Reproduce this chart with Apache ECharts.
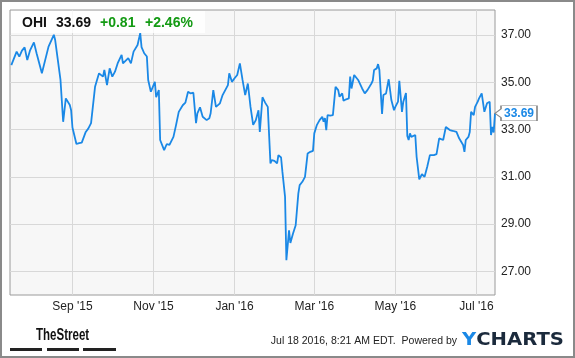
<!DOCTYPE html>
<html>
<head>
<meta charset="utf-8">
<script src="https://cdn.jsdelivr.net/npm/echarts@6/dist/echarts.min.js"></script>
<style>
html,body{margin:0;padding:0;background:#fff;}
#chart{width:575px;height:358px;}
</style>
</head>
<body>
<div id="chart"></div>
<script>
var dates = [
'2015-07-17','2015-07-21','2015-07-23','2015-07-25','2015-07-27','2015-07-29','2015-07-31','2015-08-03','2015-08-05','2015-08-09',
'2015-08-14','2015-08-18','2015-08-19','2015-08-23','2015-08-25','2015-08-27','2015-08-30','2015-08-31','2015-09-01','2015-09-02',
'2015-09-04','2015-09-06','2015-09-08','2015-09-09','2015-09-11','2015-09-13','2015-09-15','2015-09-18','2015-09-21','2015-09-22',
'2015-09-24','2015-09-25','2015-09-27','2015-09-29','2015-10-01','2015-10-03','2015-10-05','2015-10-06','2015-10-08','2015-10-09',
'2015-10-13','2015-10-15','2015-10-17','2015-10-20','2015-10-22','2015-10-23','2015-10-25','2015-10-27','2015-10-28','2015-10-30',
'2015-11-02','2015-11-03','2015-11-05','2015-11-06','2015-11-09','2015-11-11','2015-11-13','2015-11-16','2015-11-17','2015-11-18',
'2015-11-20','2015-11-23','2015-11-25','2015-11-27','2015-11-29','2015-12-01','2015-12-03','2015-12-04','2015-12-06','2015-12-08',
'2015-12-11','2015-12-13','2015-12-14','2015-12-16','2015-12-18','2015-12-19','2015-12-21','2015-12-23','2015-12-25','2015-12-27',
'2015-12-28','2015-12-30','2016-01-01','2016-01-03','2016-01-05','2016-01-07','2016-01-09','2016-01-11','2016-01-13','2016-01-15',
'2016-01-17','2016-01-19','2016-01-20','2016-01-22','2016-01-24','2016-01-26','2016-01-28','2016-01-29','2016-01-31','2016-02-02',
'2016-02-03','2016-02-05','2016-02-06','2016-02-08','2016-02-09','2016-02-10','2016-02-11','2016-02-12','2016-02-14','2016-02-16',
'2016-02-18','2016-02-19','2016-02-21','2016-02-23','2016-02-24','2016-02-25','2016-02-27','2016-02-29','2016-03-01','2016-03-03',
'2016-03-05','2016-03-07','2016-03-08','2016-03-09','2016-03-10','2016-03-11','2016-03-13','2016-03-15','2016-03-17','2016-03-19',
'2016-03-20','2016-03-22','2016-03-23','2016-03-25','2016-03-27','2016-03-28','2016-03-29','2016-03-31','2016-04-03','2016-04-04',
'2016-04-06','2016-04-08','2016-04-10','2016-04-13','2016-04-14','2016-04-15','2016-04-17','2016-04-18','2016-04-19','2016-04-21',
'2016-04-22','2016-04-24','2016-04-26','2016-04-28','2016-04-30','2016-05-01','2016-05-03','2016-05-04','2016-05-06','2016-05-07',
'2016-05-09','2016-05-10','2016-05-11','2016-05-12','2016-05-13','2016-05-16','2016-05-17','2016-05-19','2016-05-21','2016-05-23',
'2016-05-25','2016-05-27','2016-05-30','2016-06-01','2016-06-03','2016-06-06','2016-06-08','2016-06-11','2016-06-13','2016-06-16',
'2016-06-18','2016-06-21','2016-06-22','2016-06-23','2016-06-25','2016-06-26','2016-06-27','2016-06-29','2016-06-30','2016-07-02',
'2016-07-03','2016-07-05','2016-07-07','2016-07-09','2016-07-11','2016-07-12','2016-07-13','2016-07-14','2016-07-15'
];
var closes = [
35.73,36.30,36.09,36.34,36.48,35.94,36.34,36.69,36.23,35.38,
36.51,37.01,36.79,35.10,33.33,34.32,34.04,33.82,33.09,33.15,
32.39,32.43,32.45,32.37,32.90,33.05,33.27,34.81,35.38,35.45,
35.24,35.52,34.88,35.59,35.24,35.45,35.80,35.76,36.16,35.80,
36.02,35.80,36.30,36.58,37.08,36.49,36.23,36.09,35.10,34.60,
35.02,34.37,34.67,32.56,32.13,32.39,32.35,32.69,32.63,33.20,
33.75,34.03,34.14,34.60,34.53,34.56,33.27,33.69,33.94,33.54,
33.40,33.48,33.69,34.67,33.96,34.03,34.11,34.46,34.67,34.88,
35.38,35.02,35.17,35.31,35.80,35.10,34.46,34.95,33.96,33.20,
33.40,33.82,32.90,34.37,34.14,33.96,31.57,31.71,31.68,31.57,
31.92,31.82,31.22,30.15,27.47,27.45,28.74,28.20,28.60,28.95,
30.30,30.65,30.79,31.00,30.96,31.99,32.06,32.10,32.84,33.20,
33.40,33.54,33.33,33.49,32.98,33.61,33.59,33.61,34.81,34.67,
34.39,34.53,34.22,34.28,34.32,35.24,34.74,35.31,35.10,35.02,
34.74,34.53,34.67,34.95,35.07,35.52,35.59,35.77,35.52,33.66,
34.46,34.53,35.13,34.25,33.82,33.96,34.18,35.06,33.75,34.18,
34.55,32.73,32.56,32.84,32.69,32.77,31.85,30.89,31.11,31.00,
31.43,31.92,31.92,31.96,32.63,32.56,33.11,32.98,32.95,32.90,
32.63,32.35,32.06,32.56,32.69,32.90,33.75,33.61,33.96,34.18,
34.32,34.53,33.75,34.11,34.18,32.77,33.11,32.88,33.69
];
var xTickDates = ['2015-09-01','2015-11-01','2016-01-01','2016-03-01','2016-05-01','2016-07-01'];
var yTickValues = [27, 29, 31, 33, 35, 37];
var xRange = ['2015-07-16', '2016-07-15'];
var yRange = [26.0, 38.06];
var ticker = 'OHI';
var lastPrice = '33.69';
var change = '+0.81';
var changePct = '+2.46%';
var stamp = 'Jul 18 2016, 8:21 AM EDT.  Powered by';

var MONTHS = ['Jan','Feb','Mar','Apr','May','Jun','Jul','Aug','Sep','Oct','Nov','Dec'];
function ts(s) { var p = s.split('-'); return Date.UTC(+p[0], +p[1] - 1, +p[2]); }
function fmtMonth(v) {
  var d = new Date(v);
  return MONTHS[d.getUTCMonth()] + " '" + String(d.getUTCFullYear()).slice(2);
}
var seriesData = dates.map(function (d, i) { return [ts(d), closes[i]]; });
var xTicks = xTickDates.map(ts);
var last = seriesData[seriesData.length - 1];

var chart = echarts.init(document.getElementById('chart'), null, {renderer: 'canvas'});
var font = 'Arial, "Liberation Sans", sans-serif';
chart.setOption({
  animation: false,
  backgroundColor: '#ffffff',
  grid: {
    left: 10, top: 10, width: 485, height: 285,
    show: true, backgroundColor: '#f7f7f7', borderColor: '#9a9a9a', borderWidth: 1
  },
  xAxis: {
    type: 'value',
    min: ts(xRange[0]), max: ts(xRange[1]),
    axisLine: {show: false},
    axisTick: {show: false, customValues: xTicks},
    axisLabel: {
      customValues: xTicks, formatter: fmtMonth, margin: 6,
      color: '#222', fontSize: 12, fontFamily: font
    },
    splitLine: {show: true, lineStyle: {color: '#d8d8d8', width: 1}}
  },
  yAxis: {
    type: 'value', position: 'right',
    min: yRange[0], max: yRange[1],
    axisLine: {show: false},
    axisTick: {show: false, customValues: yTickValues},
    axisLabel: {
      customValues: yTickValues, formatter: function (v) { return v.toFixed(2); },
      margin: 6, color: '#222', fontSize: 12, fontFamily: font
    },
    splitLine: {show: true, lineStyle: {color: '#d8d8d8', width: 1}}
  },
  series: [{
    type: 'line',
    data: seriesData,
    showSymbol: false,
    symbol: 'none',
    lineStyle: {color: '#1a88e6', width: 1.8},
    silent: true,
    markPoint: {
      silent: true,
      symbol: 'path://M0,7L6,3L6,0L42,0L42,14L6,14L6,11Z',
      symbolSize: [42, 15],
      symbolKeepAspect: false,
      symbolOffset: [21, 0],
      itemStyle: {color: '#ffffff', borderColor: '#888888', borderWidth: 1},
      label: {
        show: true, position: 'inside', offset: [3, 0],
        formatter: lastPrice, color: '#1a88e6', fontWeight: 'bold', fontSize: 12, fontFamily: font
      },
      data: [{coord: [last[0], +lastPrice], value: +lastPrice}]
    }
  }],
  graphic: [
    {type: 'rect', silent: true, z: 100, shape: {x: 1, y: 1, width: 573, height: 356},
     style: {fill: 'none', stroke: '#8a8a8a', lineWidth: 2}},
    {type: 'rect', silent: true, z: 50, shape: {x: 11, y: 11, width: 194, height: 22},
     style: {fill: 'rgba(255,255,255,0.8)'}},
    {type: 'text', silent: true, z: 60, style: {x: 22, y: 23, text: ticker, verticalAlign: 'middle',
     font: 'bold 14px ' + font, fill: '#111'}},
    {type: 'text', silent: true, z: 60, style: {x: 56, y: 23, text: lastPrice, verticalAlign: 'middle',
     font: 'bold 14px ' + font, fill: '#111'}},
    {type: 'text', silent: true, z: 60, style: {x: 100, y: 23, text: change, verticalAlign: 'middle',
     font: 'bold 14px ' + font, fill: '#139a13'}},
    {type: 'text', silent: true, z: 60, style: {x: 145, y: 23, text: changePct, verticalAlign: 'middle',
     font: 'bold 14px ' + font, fill: '#139a13'}},
    {type: 'text', silent: true, z: 60, x: 36, y: 336, scaleX: 0.72, scaleY: 1,
     style: {x: 0, y: 0, text: 'TheStreet', align: 'left', verticalAlign: 'middle',
     font: 'bold 16px ' + font, fill: '#111'}},
    {type: 'rect', silent: true, z: 60, shape: {x: 10, y: 348, width: 32, height: 3}, style: {fill: '#222'}},
    {type: 'rect', silent: true, z: 60, shape: {x: 47, y: 348, width: 32, height: 3}, style: {fill: '#222'}},
    {type: 'rect', silent: true, z: 60, shape: {x: 83, y: 348, width: 33, height: 3}, style: {fill: '#222'}},
    {type: 'text', silent: true, z: 60, style: {x: 457, y: 347, text: stamp, align: 'right', verticalAlign: 'bottom',
     font: '10.5px ' + font, fill: '#222'}},
    {type: 'text', silent: true, z: 60, x: 462, y: 349, scaleX: 1.09, scaleY: 1,
     style: {x: 0, y: 0, verticalAlign: 'bottom',
     text: '{y|Y}{c|CHARTS}',
     rich: {
       y: {font: 'bold 18px "DejaVu Sans", sans-serif', fill: '#1a88e6'},
       c: {font: 'bold 18px "DejaVu Sans", sans-serif', fill: '#1b2a3c'}
     }}}
  ]
});
</script>
</body>
</html>
